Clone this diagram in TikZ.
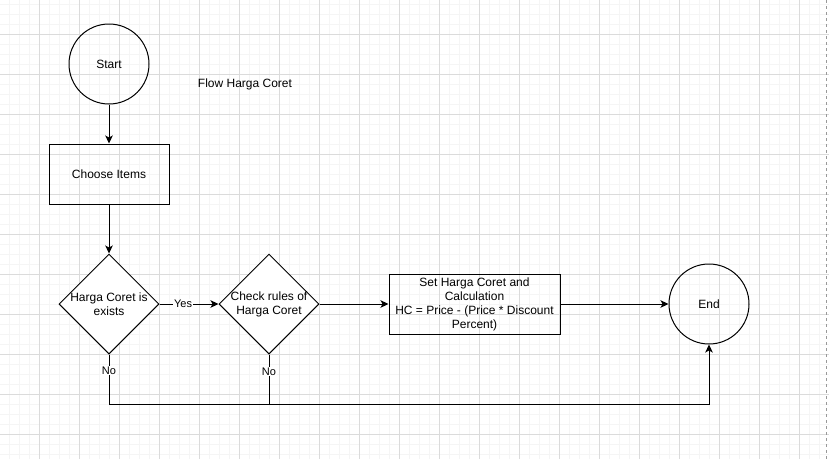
\documentclass[tikz,border=0pt]{standalone}
\usepackage{fontspec}
\setmainfont{Liberation Sans}
\usetikzlibrary{shapes.geometric,arrows.meta}

\begin{document}
\begin{tikzpicture}[x=1pt,y=-1pt,
      txt/.style={font=\fontsize{12}{14}\selectfont},
      terminal/.style={txt,draw,circle,line width=1pt,minimum size=80pt,inner sep=0pt},
      process/.style={txt,draw,line width=1pt,inner sep=0pt,align=center},
      decision/.style={draw,diamond,line width=1pt,inner sep=0pt,minimum width=100pt,minimum height=100pt},
      dtext/.style={txt,align=center},
      flow/.style={line width=1pt,-{Stealth[length=8pt,width=7.5pt,inset=2pt]}},
      line/.style={line width=1pt},
      lbl/.style={font=\fontsize{11}{13}\selectfont,fill=white,inner sep=1pt}]
    \useasboundingbox (0,0) rectangle (829,459);
    \fill[white] (0,0) rectangle (829,459);
    % background grid, faint minor lines first then the major ones
    \foreach \x in {9.5,19.5,...,829}{\draw[black!4,line width=0.8pt] (\x,0) -- (\x,459);}
    \foreach \y in {4,14,...,459}{\draw[black!4,line width=0.8pt] (0,\y) -- (829,\y);}
    \foreach \x in {39.5,79.5,...,829}{\draw[black!14,line width=0.8pt] (\x,0) -- (\x,459);}
    \foreach \y in {34,74,...,459}{\draw[black!14,line width=0.8pt] (0,\y) -- (829,\y);}
    \draw[black!40,dashed,line width=0.8pt] (826,0) -- (826,459);
    % shapes of the flow
    \node[terminal] (start) at (109,64) {Start};
    \node[txt] (title) at (245,84) {Flow Harga Coret};
    \node[process,minimum width=120pt,minimum height=60pt] (choose) at (109,174) {Choose Items};
    \node[decision,fill=white] (exist) at (109,304) {};
    \node[dtext] (existtxt) at (exist.center) {Harga Coret is\\exists};
    \node[decision,fill=white] (rules) at (269,304) {};
    \node[dtext] (rulestxt) at (rules.center) {Check rules of\\Harga Coret};
    \node[process,minimum width=171pt,minimum height=60pt] (calc) at (474.5,304)
      {Set Harga Coret and\\Calculation\\HC = Price - (Price * Discount\\Percent)};
    \node[terminal] (end) at (709,304) {End};
    \coordinate (low) at (109,404);
    % connectors
    \draw[flow] (start) -- (choose);
    \draw[flow] (choose) -- (exist);
    \draw[flow] (exist) -- node[lbl,pos=0.4] {Yes} (rules);
    \draw[flow] (rules) -- (calc);
    \draw[flow] (calc) -- (end);
    \draw[flow] (exist.south) -- node[lbl,pos=0.32] {No} (low) -| (end.south);
    \draw[line] (rules.south) -- node[lbl,pos=0.34] {No} (rules.south |- low);
  \end{tikzpicture}
\end{document}
